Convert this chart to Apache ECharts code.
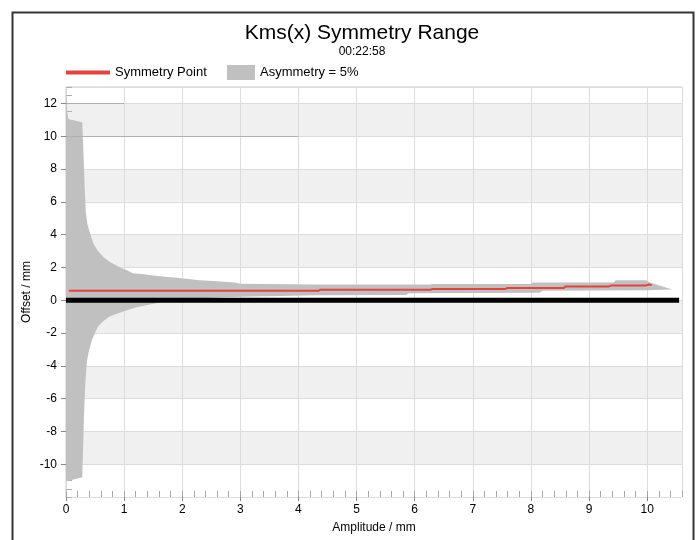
<!DOCTYPE html>
<html><head><meta charset="utf-8">
<script src="https://cdn.jsdelivr.net/npm/echarts@6/dist/echarts.min.js"></script>
<style>html,body{margin:0;padding:0;background:#fff}#c{width:699px;height:540px}</style>
</head><body><div id="c"></div>
<script>
// ---- texts ----
const titleText = 'Kms(x) Symmetry Range';
const subtitleText = '00:22:58';
const brandText = 'KLIPPEL';
const seriesNames = ['Symmetry Point', 'Asymmetry = 5%'];
const xAxisName = 'Amplitude / mm';
const yAxisName = 'Offset / mm';

// ---- axes ----
const xMin = 0, xMax = 10.6, xStep = 1, xMinorStep = 0.2;
const yMin = -12, yMax = 13, yStep = 2, yMinorStep = 0.5;

// ---- Asymmetry = 5% range : upper boundary ----
const upperX = [0, 0.02, 0.04, 0.15, 0.28, 0.30, 0.32, 0.34, 0.37, 0.42, 0.48, 0.55, 0.65, 0.75, 0.85, 0.95, 1.05, 1.15, 1.3, 1.5, 1.75, 1.95, 2.3, 2.6, 2.9, 3.0, 4.3, 6.27, 6.3, 8.0, 8.02, 9.43, 9.46, 9.98, 10.05, 10.42];
const upperY = [12.9, 11.5, 11.05, 10.95, 10.85, 9.0, 7.0, 5.4, 4.6, 4.0, 3.4, 3.0, 2.6, 2.35, 2.15, 1.97, 1.82, 1.65, 1.6, 1.5, 1.42, 1.36, 1.22, 1.15, 1.08, 1.0, 0.96, 0.96, 0.99, 0.99, 1.08, 1.08, 1.22, 1.22, 1.08, 0.67];
// ---- lower boundary ----
const lowerX = [0, 0.28, 0.31, 0.33, 0.36, 0.40, 0.45, 0.55, 0.65, 0.75, 0.9, 1.0, 1.2, 1.4, 1.6, 1.75, 2.0, 2.3, 2.7, 3.2, 3.7, 4.3, 5.85, 5.9, 8.15, 8.2, 10.0, 10.42];
const lowerY = [-11.05, -10.8, -7.0, -5.2, -3.7, -3.0, -2.4, -1.6, -1.25, -1.0, -0.8, -0.68, -0.45, -0.3, -0.15, 0.0, 0.06, 0.12, 0.18, 0.22, 0.26, 0.3, 0.31, 0.43, 0.45, 0.57, 0.6, 0.66];

// ---- Symmetry point ----
const symX = [0.05, 4.34, 4.38, 6.27, 6.31, 7.56, 7.6, 8.56, 8.6, 9.34, 9.38, 9.97, 10.03, 10.08];
const symY = [0.57, 0.57, 0.64, 0.64, 0.69, 0.69, 0.74, 0.74, 0.84, 0.84, 0.89, 0.89, 0.96, 0.92];

// ---- zero reference line ----
const baseX = [0, 10.55];
const baseY = [0, 0];

// ---- gridline segments drawn darker in the original ----
const darkSegments = [[[0, 12], [1, 12]], [[0, 10], [4, 10]]];

const zip = (a, b) => a.map((v, i) => [v, b[i]]);
const FONT = '"Liberation Sans", Arial, sans-serif';

const chart = echarts.init(document.getElementById('c'), null, {renderer: 'canvas'});
chart.setOption({
  animation: false,
  backgroundColor: '#ffffff',
  textStyle: {fontFamily: FONT, color: '#000'},
  grid: {left: 66, right: 17, top: 87, bottom: 43, show: true, borderColor: '#c8c8c8', borderWidth: 1},
  legend: [
    {data: [{name: seriesNames[0], icon: 'rect'}], left: 66, top: 66, padding: 0, itemWidth: 44, itemHeight: 4,
     textStyle: {fontSize: 13, color: '#000', fontFamily: FONT}, selectedMode: false},
    {data: [{name: seriesNames[1], icon: 'rect'}], left: 227, top: 65, padding: 0, itemWidth: 28, itemHeight: 15,
     textStyle: {fontSize: 13, color: '#000', fontFamily: FONT}, selectedMode: false}
  ],
  xAxis: [
    {type: 'value', min: xMin, max: xMax, interval: xStep,
     name: xAxisName, nameLocation: 'middle', nameGap: 25, nameMoveOverlap: false,
     nameTextStyle: {fontSize: 12, color: '#000', fontFamily: FONT},
     axisLine: {show: false, onZero: false},
     axisTick: {show: true, length: 4, lineStyle: {color: '#888'}},
     axisLabel: {showMaxLabel: false, margin: 7, fontSize: 12, color: '#000', fontFamily: FONT},
     splitLine: {show: true, lineStyle: {color: '#dcdcdc', width: 1}}},
    {type: 'value', min: xMin, max: xMax, interval: xMinorStep, position: 'bottom',
     axisLine: {show: false, onZero: false},
     axisTick: {show: true, inside: true, length: 6, lineStyle: {color: '#a8a8a8'}},
     axisLabel: {show: false}, splitLine: {show: false}}
  ],
  yAxis: [
    {type: 'value', min: yMin, max: yMax, interval: yStep,
     name: yAxisName, nameLocation: 'middle', nameGap: 33, nameRotate: 90, nameMoveOverlap: false,
     nameTextStyle: {fontSize: 12, color: '#000', fontFamily: FONT},
     axisLine: {show: false, onZero: false},
     axisTick: {show: true, length: 5, lineStyle: {color: '#888'}},
     axisLabel: {showMinLabel: false, showMaxLabel: false, margin: 9, fontSize: 12, color: '#000', fontFamily: FONT},
     splitLine: {show: true, lineStyle: {color: '#dcdcdc', width: 1}},
     splitArea: {show: true, areaStyle: {color: ['#ffffff', '#f0f0f0']}}},
    {type: 'value', min: yMin, max: yMax, interval: yMinorStep, position: 'left',
     axisLine: {show: false, onZero: false},
     axisTick: {show: true, inside: true, length: 6, lineStyle: {color: '#b0b0b0'}},
     axisLabel: {show: false}, splitLine: {show: false}}
  ],
  series: [
    {type: 'line', name: 'grid-dark', data: [], z: 1, silent: true,
     markLine: {symbol: 'none', silent: true, animation: false, label: {show: false},
       lineStyle: {color: '#b0b0b0', width: 1, type: 'solid'},
       data: darkSegments.map(s => [{coord: s[0]}, {coord: s[1]}])}},
    {type: 'custom', name: seriesNames[1], z: 2, silent: true,
     itemStyle: {color: '#c0c0c0'},
     data: [[0, 0]],
     renderItem: function (params, api) {
       if (params.dataIndex !== 0) return null;
       const pts = [];
       for (let i = 0; i < upperX.length; i++) pts.push(api.coord([upperX[i], upperY[i]]));
       for (let i = lowerX.length - 1; i >= 0; i--) pts.push(api.coord([lowerX[i], lowerY[i]]));
       return {type: 'polygon', shape: {points: pts}, style: {fill: '#c0c0c0', stroke: null}};
     }},
    {type: 'line', name: 'zero', data: zip(baseX, baseY), z: 3, silent: true,
     showSymbol: false, lineStyle: {color: '#000', width: 5}, itemStyle: {color: '#000'}},
    {type: 'line', name: seriesNames[0], data: zip(symX, symY), z: 4, silent: true,
     showSymbol: false, lineStyle: {color: '#e8413c', width: 2}, itemStyle: {color: '#e8413c'}}
  ],
  graphic: [
    {type: 'rect', shape: {x: 12.5, y: 12.5, width: 681, height: 560}, style: {fill: null, stroke: '#333', lineWidth: 2}, silent: true},
    {type: 'text', style: {text: titleText, x: 362, y: 33, textAlign: 'center', textVerticalAlign: 'middle', font: '21px ' + FONT, fill: '#000'}},
    {type: 'text', style: {text: subtitleText, x: 362, y: 52, textAlign: 'center', textVerticalAlign: 'middle', font: '12px ' + FONT, fill: '#000'}},
    {type: 'text', style: {text: brandText, x: 611, y: 103, textAlign: 'left', textVerticalAlign: 'middle', font: '12px ' + FONT, fill: '#3d80bf'}}
  ]
});
</script></body></html>
